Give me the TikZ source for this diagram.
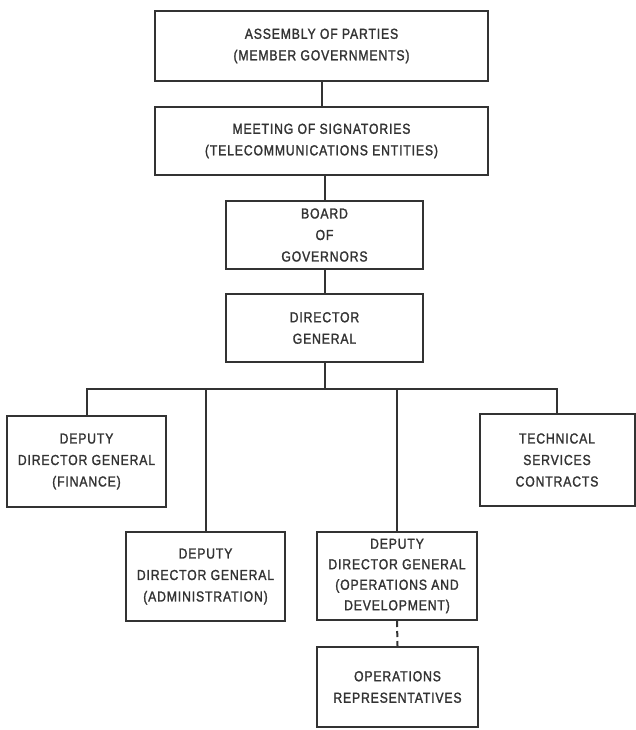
\documentclass[tikz,border=0pt]{standalone}
\usepackage{fontspec}
\setmainfont{Liberation Sans}[FakeStretch=0.84,LetterSpace=6,FakeBold=1.6]
\begin{document}
\begin{tikzpicture}[x=1pt,y=-1pt,
  box/.style={draw=black!80,line width=2pt,rectangle,align=center,inner sep=0pt,
    font=\fontsize{14.5}{21.5}\selectfont,text=black!80},
  link/.style={draw=black!80,line width=2pt}]
\useasboundingbox (0,0) rectangle (636,730);
% hierarchy boxes
\node[box,minimum width=333pt,minimum height=70pt] (asm) at (321.5,46) {ASSEMBLY OF PARTIES\\(MEMBER GOVERNMENTS)};
\node[box,minimum width=333pt,minimum height=68pt] (mtg) at (321.5,141) {MEETING OF SIGNATORIES\\(TELECOMMUNICATIONS ENTITIES)};
\node[box,minimum width=197pt,minimum height=68pt] (bog) at (324.5,235) {BOARD\\OF\\GOVERNORS};
\node[box,minimum width=197pt,minimum height=68pt] (dg) at (324.5,328) {DIRECTOR\\GENERAL};
\node[box,minimum width=159pt,minimum height=91pt] (fin) at (86.5,461.5) {DEPUTY\\DIRECTOR GENERAL\\(FINANCE)};
\node[box,minimum width=155pt,minimum height=92pt] (tech) at (557,460) {TECHNICAL\\SERVICES\\CONTRACTS};
\node[box,minimum width=159pt,minimum height=89pt] (adm) at (205.5,576.5) {DEPUTY\\DIRECTOR GENERAL\\(ADMINISTRATION)};
\node[box,minimum width=160pt,minimum height=88pt,font=\fontsize{14.5}{20.5}\selectfont] (ops) at (397,576) {DEPUTY\\DIRECTOR GENERAL\\(OPERATIONS AND\\DEVELOPMENT)};
\node[box,minimum width=161pt,minimum height=80pt] (rep) at (397.5,687) {OPERATIONS\\REPRESENTATIVES};
% branch line
\coordinate (bar) at (0,389);
% connectors
\draw[link] (asm.south) -- (mtg.north);
\draw[link] (mtg.south -| bog.north) -- (bog.north);
\draw[link] (bog.south) -- (dg.north);
\draw[link] (dg.south) -- (dg.south |- bar);
\draw[link] (fin.north) -- (fin.north |- bar) -- (tech.north |- bar) -- (tech.north);
\draw[link] (adm.north |- bar) -- (adm.north);
\draw[link] (ops.north |- bar) -- (ops.north);
\draw[link,dash pattern=on 6pt off 4pt] (ops.south) -- (rep.north);
\end{tikzpicture}
\end{document}
